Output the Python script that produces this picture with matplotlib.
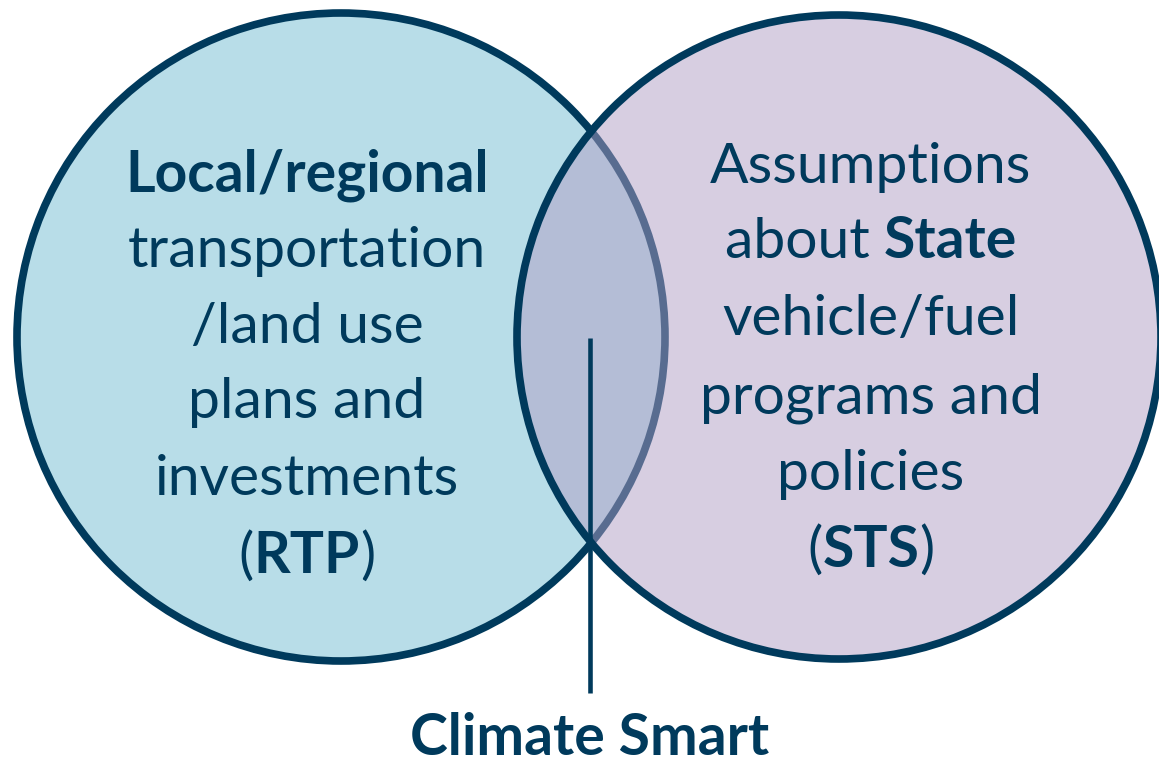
import matplotlib.pyplot as plt
from matplotlib.patches import Circle

# text content of the diagram; each line is a list of (text, weight) pieces
left_lines = [
    [("Local/regional", "bold")],
    [("transportation", "normal")],
    [("/land use", "normal")],
    [("plans and", "normal")],
    [("investments", "normal")],
    [("(", "normal"), ("RTP", "bold"), (")", "normal")],
]
right_lines = [
    [("Assumptions", "normal")],
    [("about ", "normal"), ("State", "bold")],
    [("vehicle/fuel", "normal")],
    [("programs and", "normal")],
    [("policies", "normal")],
    [("(", "normal"), ("STS", "bold"), (")", "normal")],
]
overlap_label = "Climate Smart"

NAVY = "#003a5c"
LEFT_FILL = "#b8dde8"
RIGHT_FILL = "#b19fc5"
FONT = "Lato"
FS = 41

W, H = 1159, 767
fig = plt.figure(figsize=(W / 100, H / 100), dpi=100)
ax = fig.add_axes([0, 0, 1, 1])
ax.set_xlim(0, W)
ax.set_ylim(H, 0)
ax.axis("off")

# left circle (opaque), right circle fill half transparent, right edge opaque
ax.add_patch(Circle((341, 337), 324, facecolor=LEFT_FILL, edgecolor=NAVY, lw=5.5))
ax.add_patch(Circle((839, 337), 322, facecolor=RIGHT_FILL, edgecolor="none", alpha=0.5))
ax.add_patch(Circle((839, 337), 322, facecolor="none", edgecolor=NAVY, lw=5.5))

ax.plot([590, 590], [338, 693], color=NAVY, lw=3.3, solid_capstyle="butt")

renderer = fig.canvas.get_renderer()


def draw_line(pieces, xc, baseline):
    texts = []
    total = 0.0
    for s, weight in pieces:
        t = ax.text(0, baseline, s, fontsize=FS, fontweight=weight, family=FONT,
                    color=NAVY, ha="left", va="baseline")
        w = t.get_window_extent(renderer).width
        texts.append((t, w))
        total += w
    x = xc - total / 2
    for t, w in texts:
        t.set_x(x)
        x += w


left_base = [192, 267, 343, 418, 495, 573]
right_base = [183, 258, 335, 413, 490, 567]
for pieces, b in zip(left_lines, left_base):
    draw_line(pieces, 307, b)
for pieces, b in zip(right_lines, right_base):
    draw_line(pieces, 871, b)

ax.text(590, 755, overlap_label, fontsize=FS, fontweight="bold", family=FONT,
        color=NAVY, ha="center", va="baseline")

fig.savefig("out.png", dpi=100)
